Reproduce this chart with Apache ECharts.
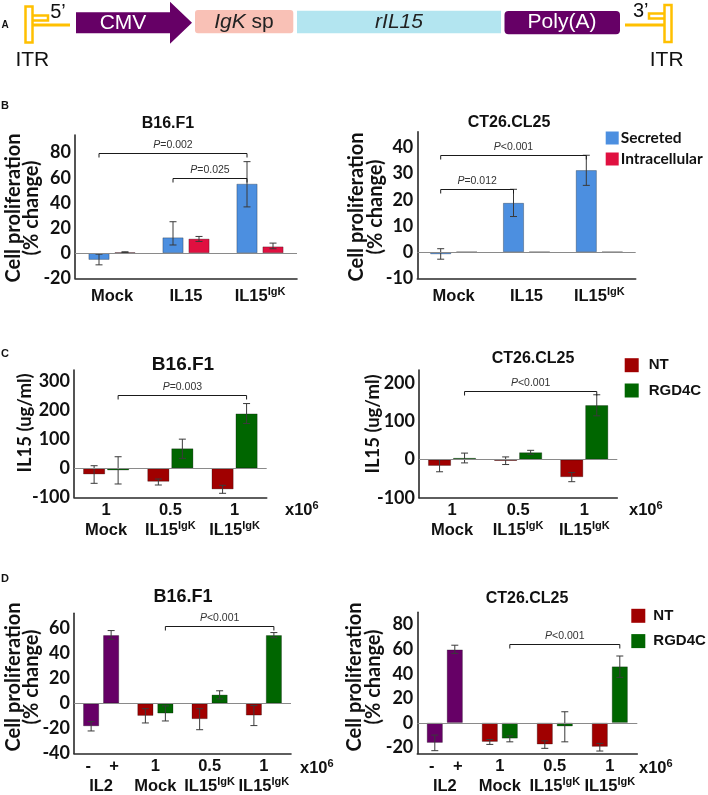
<!DOCTYPE html>
<html><head><meta charset="utf-8">
<script src="https://cdn.jsdelivr.net/npm/echarts@6/dist/echarts.min.js"></script>
<style>html,body{margin:0;padding:0;background:#fff}#c{width:708px;height:795px}</style>
</head><body><div id="c"></div>
<script>
// ---------------- DATA ----------------
// Panel B : cell proliferation (% change)
const bCategories = ['Mock', 'IL15', 'IL15IgK'];
const bB16YTicks = [-20, 0, 20, 40, 60, 80];
const bB16Secreted = [-5.3, 12.5, 55.2];
const bB16SecretedErrLow = [-9.3, 6.5, 36.8];
const bB16SecretedErrHigh = [-0.8, 25.0, 72.8];
const bB16Intracellular = [0.8, 11.5, 5.3];
const bB16IntracellularErrLow = [0.5, 9.3, 3.5];
const bB16IntracellularErrHigh = [1.1, 13.3, 8.0];
const bB16Brackets = [[0, 2, 79.5], [1, 2, 60]];
const bB16BracketLabels = ['P=0.002', 'P=0.025'];

const bCT26YTicks = [-10, 0, 10, 20, 30, 40];
const bCT26Secreted = [-0.8, 18.8, 31.3];
const bCT26SecretedErrLow = [-2.7, 13.6, 25.5];
const bCT26SecretedErrHigh = [1.3, 24.0, 37.0];
const bCT26Intracellular = [0.15, 0.15, 0.15];
const bCT26IntracellularErrLow = [null, null, null];
const bCT26IntracellularErrHigh = [null, null, null];
const bCT26Brackets = [[0, 2, 37], [0, 1, 24]];
const bCT26BracketLabels = ['P<0.001', 'P=0.012'];

// Panel C : IL15 (ug/ml)
const cDoses = ['1', '0.5', '1'];
const cGroups = ['Mock', 'IL15IgK', 'IL15IgK'];
const cB16YTicks = [-100, 0, 100, 200, 300];
const cB16NT = [-20.7, -46, -72.4];
const cB16NTErrLow = [-51.7, -57.5, -86.2];
const cB16NTErrHigh = [9.2, -36.8, -58.6];
const cB16RGD4C = [-6.9, 69, 189.7];
const cB16RGD4CErrLow = [-54, 34.5, 155];
const cB16RGD4CErrHigh = [40.2, 101, 224];
const cB16Brackets = [[0, 2, 253]];
const cB16BracketLabels = ['P=0.003'];

const cCT26YTicks = [-100, 0, 100, 200];
const cCT26NT = [-16.5, -3.5, -46];
const cCT26NTErrLow = [-32, -13, -58];
const cCT26NTErrHigh = [0, 7, -34];
const cCT26RGD4C = [4.3, 19, 142.6];
const cCT26RGD4CErrLow = [-8.7, 13.9, 114.8];
const cCT26RGD4CErrHigh = [17, 24.3, 170];
const cCT26Brackets = [[0, 2, 181]];
const cCT26BracketLabels = ['P<0.001'];

// Panel D : cell proliferation (% change)
const dGroups = ['IL2', 'Mock', 'IL15IgK', 'IL15IgK'];
const dDoses = ['', '1', '0.5', '1'];
const il2Signs = ['-', '+'];
const dB16YTicks = [-40, -20, 0, 20, 40, 60];
const dB16IL2 = [-18.2, 54.5];
const dB16IL2ErrLow = [-22, 51.2];
const dB16IL2ErrHigh = [-14.5, 58.2];
const dB16NT = [-9.9, -12.5, -9.6];
const dB16NTErrLow = [-15.6, -21, -17.7];
const dB16NTErrHigh = [-4.2, -4.2, -1.6];
const dB16RGD4C = [-8, 7, 54.5];
const dB16RGD4CErrLow = [-14, 3.6, 52.5];
const dB16RGD4CErrHigh = [-2, 10.1, 56.6];
const dB16Brackets = [[1, 3, 61.6]];
const dB16BracketLabels = ['P<0.001'];

const dCT26YTicks = [-20, 0, 20, 40, 60, 80];
const dCT26IL2 = [-16.3, 59.7];
const dCT26IL2ErrLow = [-22.7, 56.5];
const dCT26IL2ErrHigh = [-10, 63.2];
const dCT26NT = [-15.5, -17.6, -19.5];
const dCT26NTErrLow = [-17.6, -20.8, -23];
const dCT26NTErrHigh = [-13.6, -14.7, -16.8];
const dCT26RGD4C = [-12.8, -2.9, 45.9];
const dCT26RGD4CErrLow = [-15.5, -15.5, 37];
const dCT26RGD4CErrHigh = [-10.7, 9, 54.4];
const dCT26Brackets = [[1, 3, 64.5]];
const dCT26BracketLabels = ['P<0.001'];

// ---------------- STYLE ----------------
const ARIAL = '"Liberation Sans", Arial, sans-serif';
const CAL = 'Lato, "Liberation Sans", sans-serif';
const PURPLE = '#660066';
const BLUE = '#4C8FE0';
const CRIMSON = '#E01040';
const DARKRED = '#A00000';
const GREEN = '#006600';
const ITR = '#FFC000';
const AXIS = '#2a2a2a';

const grids = [
  {left: 75, top: 135, width: 222, height: 143.3},
  {left: 417.3, top: 131.7, width: 218.4, height: 146.6},
  {left: 74, top: 370, width: 192.7, height: 127.3},
  {left: 419, top: 370, width: 198.3, height: 127.7},
  {left: 74, top: 613.3, width: 217, height: 141.7},
  {left: 417.3, top: 612.3, width: 220, height: 142.7}
];
const yRanges = [
  {min: -20, max: 94, interval: 2, ticks: bB16YTicks},
  {min: -10, max: 46, interval: 2, ticks: bCT26YTicks},
  {min: -100, max: 340, interval: 20, ticks: cB16YTicks},
  {min: -100, max: 235, interval: 5, ticks: cCT26YTicks},
  {min: -40, max: 72, interval: 4, ticks: dB16YTicks},
  {min: -25, max: 90, interval: 5, ticks: dCT26YTicks}
];
const barGeom = [
  {w: 21, gap: 5}, {w: 21, gap: 5},
  {w: 22, gap: 2}, {w: 23, gap: 2},
  {w: 16, gap: 4}, {w: 16, gap: 4}
];

const xRich = {
  g: {fontFamily: ARIAL, fontWeight: 'bold', fontSize: 16.5, lineHeight: 20, color: '#111'},
  s: {fontFamily: ARIAL, fontWeight: 'bold', fontSize: 11, lineHeight: 13, verticalAlign: 'top', color: '#111'},
  m: {fontFamily: ARIAL, fontWeight: 'bold', fontSize: 16.5, lineHeight: 20, width: 26, align: 'center', color: '#111'}
};
function fmtGroup(name) {
  return name === 'IL15IgK' ? '{g|IL15}{s|IgK}' : '{g|' + name + '}';
}
const xFormatters = [
  (v, i) => fmtGroup(bCategories[i]),
  (v, i) => fmtGroup(bCategories[i]),
  (v, i) => '{g|' + cDoses[i] + '}\n' + fmtGroup(cGroups[i]),
  (v, i) => '{g|' + cDoses[i] + '}\n' + fmtGroup(cGroups[i]),
  (v, i) => i === 0 ? '{m|' + il2Signs[0] + '}{m|' + il2Signs[1] + '}\n{g|' + dGroups[0] + '}' : '{g|' + dDoses[i] + '}\n' + fmtGroup(dGroups[i]),
  (v, i) => i === 0 ? '{m|' + il2Signs[0] + '}{m|' + il2Signs[1] + '}\n{g|' + dGroups[0] + '}' : '{g|' + dDoses[i] + '}\n' + fmtGroup(dGroups[i])
];
const xCats = [
  bCategories, bCategories,
  cGroups.map((g, i) => g + ' ' + cDoses[i]), cGroups.map((g, i) => g + ' ' + cDoses[i]),
  dGroups.map((g, i) => g + ' ' + (dDoses[i] || 'pm')), dGroups.map((g, i) => g + ' ' + (dDoses[i] || 'pm'))
];
const xMargins = [8, 8, 3, 3, 3, 3];

const xAxes = grids.map((g, i) => ({
  type: 'category', gridIndex: i, data: xCats[i],
  axisLine: {onZero: false, lineStyle: {color: AXIS, width: 1.6}},
  axisTick: {show: false},
  axisLabel: {interval: 0, margin: xMargins[i], formatter: xFormatters[i], rich: xRich}
}));
const yAxes = yRanges.map((r, i) => ({
  type: 'value', gridIndex: i, min: r.min, max: r.max, interval: r.interval,
  axisLine: {show: true, lineStyle: {color: AXIS, width: 1.6}},
  axisTick: {show: false}, splitLine: {show: false},
  axisLabel: {
    margin: 4, fontFamily: CAL, fontWeight: 'bold', fontSize: 18, color: '#111',
    formatter: v => r.ticks.some(t => Math.abs(t - v) < 1e-6) ? String(v) : ''
  }
}));

function errRender(off) {
  return function (params, api) {
    const cat = api.value(0), lo = api.value(1), hi = api.value(2), side = api.value(3);
    const a = api.coord([cat, lo]), b = api.coord([cat, hi]);
    const cx = a[0] + (side ? off : -off);
    const hw = 3.5;
    const st = {stroke: '#3a3a3a', lineWidth: 1};
    return {type: 'group', children: [
      {type: 'line', shape: {x1: cx, y1: a[1], x2: cx, y2: b[1]}, style: st},
      {type: 'line', shape: {x1: cx - hw, y1: a[1], x2: cx + hw, y2: a[1]}, style: st},
      {type: 'line', shape: {x1: cx - hw, y1: b[1], x2: cx + hw, y2: b[1]}, style: st}
    ]};
  };
}
function bracketRender(off, labels) {
  return function (params, api) {
    const a = api.coord([api.value(0), api.value(2)]);
    const b = api.coord([api.value(1), api.value(2)]);
    const x1 = a[0] + off, x2 = b[0] + off, y = Math.round(a[1]) + 0.5;
    const lab = labels[params.dataIndex];
    return {type: 'group', children: [
      {type: 'polyline', shape: {points: [[x1, y + 4], [x1, y], [x2, y], [x2, y + 4]]}, style: {stroke: '#1a1a1a', lineWidth: 1, fill: null}},
      {type: 'text', x: (x1 + x2) / 2, y: y - 8, style: {
        text: '{i|P}{n|' + lab.slice(1) + '}', align: 'center', verticalAlign: 'middle',
        rich: {
          i: {fontStyle: 'italic', fontSize: 10.5, fontFamily: ARIAL, fill: '#333'},
          n: {fontSize: 10.5, fontFamily: ARIAL, fill: '#333'}
        }
      }}
    ]};
  };
}

function panelSeries(gi, names, colors, data0, data1, lo0, hi0, lo1, hi1, brackets, bracketLabels, bracketSide) {
  const geo = barGeom[gi];
  const off = (geo.w + geo.gap) / 2;
  const barStyle = c => ({color: c, borderColor: 'rgba(0,0,0,0.35)', borderWidth: 0.8});
  const errData = [];
  data0.forEach((d, i) => { if (lo0[i] != null) errData.push([i, lo0[i], hi0[i], 0]); });
  data1.forEach((d, i) => { if (lo1[i] != null) errData.push([i, lo1[i], hi1[i], 1]); });
  return [
    {type: 'bar', name: names[0], xAxisIndex: gi, yAxisIndex: gi, data: data0, barWidth: geo.w,
      barGap: (geo.gap / geo.w * 100) + '%', itemStyle: barStyle(colors[0]), z: 2,
      markLine: {silent: true, symbol: 'none', label: {show: false},
        lineStyle: {color: '#8a8a8a', width: 1, type: 'solid'}, data: [{yAxis: 0}]}},
    {type: 'bar', name: names[1], xAxisIndex: gi, yAxisIndex: gi, data: data1, barWidth: geo.w,
      barGap: (geo.gap / geo.w * 100) + '%', itemStyle: barStyle(colors[1]), z: 2},
    {type: 'custom', name: 'err' + gi, xAxisIndex: gi, yAxisIndex: gi, data: errData, z: 4,
      encode: {x: 0, y: [1, 2]}, renderItem: errRender(off)},
    {type: 'custom', name: 'br' + gi, xAxisIndex: gi, yAxisIndex: gi, data: brackets, z: 4,
      encode: {x: [0, 1], y: 2}, renderItem: bracketRender(bracketSide * off, bracketLabels)}
  ];
}

const purpleItem = v => ({value: v, itemStyle: {color: PURPLE}});
const series = [].concat(
  panelSeries(0, ['Secreted', 'Intracellular'], [BLUE, CRIMSON], bB16Secreted, bB16Intracellular,
    bB16SecretedErrLow, bB16SecretedErrHigh, bB16IntracellularErrLow, bB16IntracellularErrHigh,
    bB16Brackets, bB16BracketLabels, -1),
  panelSeries(1, ['Secreted', 'Intracellular'], [BLUE, CRIMSON], bCT26Secreted, bCT26Intracellular,
    bCT26SecretedErrLow, bCT26SecretedErrHigh, bCT26IntracellularErrLow, bCT26IntracellularErrHigh,
    bCT26Brackets, bCT26BracketLabels, -1),
  panelSeries(2, ['NT', 'RGD4C'], [DARKRED, GREEN], cB16NT, cB16RGD4C,
    cB16NTErrLow, cB16NTErrHigh, cB16RGD4CErrLow, cB16RGD4CErrHigh, cB16Brackets, cB16BracketLabels, 1),
  panelSeries(3, ['NT', 'RGD4C'], [DARKRED, GREEN], cCT26NT, cCT26RGD4C,
    cCT26NTErrLow, cCT26NTErrHigh, cCT26RGD4CErrLow, cCT26RGD4CErrHigh, cCT26Brackets, cCT26BracketLabels, 1),
  panelSeries(4, ['NT', 'RGD4C'], [DARKRED, GREEN],
    [purpleItem(dB16IL2[0])].concat(dB16NT), [purpleItem(dB16IL2[1])].concat(dB16RGD4C),
    [dB16IL2ErrLow[0]].concat(dB16NTErrLow), [dB16IL2ErrHigh[0]].concat(dB16NTErrHigh),
    [dB16IL2ErrLow[1]].concat(dB16RGD4CErrLow), [dB16IL2ErrHigh[1]].concat(dB16RGD4CErrHigh),
    dB16Brackets, dB16BracketLabels, 1),
  panelSeries(5, ['NT', 'RGD4C'], [DARKRED, GREEN],
    [purpleItem(dCT26IL2[0])].concat(dCT26NT), [purpleItem(dCT26IL2[1])].concat(dCT26RGD4C),
    [dCT26IL2ErrLow[0]].concat(dCT26NTErrLow), [dCT26IL2ErrHigh[0]].concat(dCT26NTErrHigh),
    [dCT26IL2ErrLow[1]].concat(dCT26RGD4CErrLow), [dCT26IL2ErrHigh[1]].concat(dCT26RGD4CErrHigh),
    dCT26Brackets, dCT26BracketLabels, 1)
);

const legendBase = {orient: 'vertical', padding: 0, icon: 'rect', selectedMode: false, itemStyle: {borderWidth: 0}};
const legends = [
  Object.assign({}, legendBase, {data: ['Secreted', 'Intracellular'], left: 605.7, top: 130, itemWidth: 13, itemHeight: 13, itemGap: 5,
    textStyle: {fontFamily: CAL, fontWeight: 'bold', fontSize: 15.5, color: '#111', lineHeight: 13, padding: [0, 0, 0, -3]}}),
  Object.assign({}, legendBase, {data: ['NT', 'RGD4C'], left: 624.7, top: 357.7, itemWidth: 14, itemHeight: 14, itemGap: 10.3,
    textStyle: {fontFamily: ARIAL, fontWeight: 'bold', fontSize: 15, color: '#111', lineHeight: 14, padding: [0, 0, 0, 5]}}),
  Object.assign({}, legendBase, {data: ['NT', 'RGD4C'], left: 631.3, top: 608.3, itemWidth: 14, itemHeight: 14, itemGap: 10.3,
    textStyle: {fontFamily: ARIAL, fontWeight: 'bold', fontSize: 15, color: '#111', lineHeight: 14, padding: [0, 0, 0, 3]}})
];

// ---------- free text & schematic (panel A) ----------
function txt(x, y, text, o) {
  return {type: 'text', x: x, y: y, rotation: (o && o.rot) || 0, style: Object.assign({
    text: text, align: 'center', verticalAlign: 'middle', fill: '#111', fontFamily: ARIAL, fontSize: 16
  }, (o && o.style) || {})};
}
const boldTitle = s => ({fontWeight: 'bold', fontSize: s});
const yName = (s) => ({fontFamily: CAL, fontWeight: 'bold', fontSize: s, lineHeight: 18.4});
const x106 = {text: '{a|x10}{s|6}', align: 'left', rich: {
  a: {fontFamily: ARIAL, fontWeight: 'bold', fontSize: 16.5, lineHeight: 20, fill: '#111'},
  s: {fontFamily: ARIAL, fontWeight: 'bold', fontSize: 11, lineHeight: 12, verticalAlign: 'top', fill: '#111'}}};

const graphics = [
  // panel A schematic
  {type: 'polygon', shape: {points: [[76, 12.3], [170, 12.3], [170, 1.7], [192, 22.7], [170, 43.7], [170, 33.3], [76, 33.3]]}, style: {fill: PURPLE}},
  txt(123, 23, 'CMV', {style: {fill: '#fff', fontSize: 21}}),
  {type: 'rect', shape: {x: 195, y: 10, width: 98.3, height: 23.3, r: 3}, style: {fill: '#F9C1B6'}},
  txt(244, 22, '{i|IgK}{n| sp}', {style: {rich: {
    i: {fontStyle: 'italic', fontFamily: ARIAL, fontSize: 21, fill: '#222'},
    n: {fontFamily: ARIAL, fontSize: 21, fill: '#222'}}}}),
  {type: 'rect', shape: {x: 297, y: 10.7, width: 204, height: 22.6}, style: {fill: '#B3E5F0'}},
  txt(399, 22, 'rIL15', {style: {fontStyle: 'italic', fontSize: 21, fill: '#222'}}),
  {type: 'rect', shape: {x: 504.5, y: 11, width: 115.5, height: 23.3, r: 4}, style: {fill: PURPLE}},
  txt(562, 22.7, 'Poly(A)', {style: {fill: '#fff', fontSize: 21}}),
  // left ITR
  {type: 'rect', shape: {x: 25.5, y: 6.5, width: 7, height: 36}, style: {fill: null, stroke: ITR, lineWidth: 2.5}},
  {type: 'polyline', shape: {points: [[33, 15.5], [48, 15.5], [48, 20.5], [33, 20.5]]}, style: {fill: null, stroke: ITR, lineWidth: 2.5}},
  {type: 'line', shape: {x1: 33, y1: 25, x2: 70, y2: 25}, style: {stroke: ITR, lineWidth: 3}},
  txt(58, 12, '5\u2019', {style: {fontSize: 20}}),
  txt(32.3, 60, 'ITR', {style: {fontSize: 21}}),
  // right ITR
  {type: 'rect', shape: {x: 664.5, y: 5, width: 7, height: 37}, style: {fill: null, stroke: ITR, lineWidth: 2.5}},
  {type: 'polyline', shape: {points: [[664.5, 13.5], [649, 13.5], [649, 18.5], [664.5, 18.5]]}, style: {fill: null, stroke: ITR, lineWidth: 2.5}},
  {type: 'line', shape: {x1: 625, y1: 25, x2: 664, y2: 25}, style: {stroke: ITR, lineWidth: 3}},
  txt(640.7, 11, '3\u2019', {style: {fontSize: 20}}),
  txt(666.7, 60, 'ITR', {style: {fontSize: 21}}),
  // panel letters
  txt(5, 25, 'A', {style: {fontWeight: 'bold', fontSize: 10}}),
  txt(5, 105.7, 'B', {style: {fontWeight: 'bold', fontSize: 11}}),
  txt(5, 354.3, 'C', {style: {fontWeight: 'bold', fontSize: 11}}),
  txt(5, 579.3, 'D', {style: {fontWeight: 'bold', fontSize: 11}}),
  // titles
  txt(168, 124, 'B16.F1', {style: boldTitle(16)}),
  txt(509, 123, 'CT26.CL25', {style: boldTitle(16)}),
  txt(183, 364.3, 'B16.F1', {style: boldTitle(19)}),
  txt(533, 359, 'CT26.CL25', {style: boldTitle(16)}),
  txt(183, 596.7, 'B16.F1', {style: boldTitle(18)}),
  txt(527, 599, 'CT26.CL25', {style: boldTitle(16)}),
  // y-axis names
  txt(22.5, 208, 'Cell proliferation\n(% change)', {rot: Math.PI / 2, style: yName(20)}),
  txt(366, 207, 'Cell proliferation\n(% change)', {rot: Math.PI / 2, style: yName(20)}),
  txt(25, 423, 'IL15 (ug/ml)', {rot: Math.PI / 2, style: yName(18.5)}),
  txt(373, 424, 'IL15 (ug/ml)', {rot: Math.PI / 2, style: yName(18.5)}),
  txt(22.5, 677, 'Cell proliferation\n(% change)', {rot: Math.PI / 2, style: yName(20)}),
  txt(364, 677, 'Cell proliferation\n(% change)', {rot: Math.PI / 2, style: yName(20)}),
  // x10^6
  {type: 'text', x: 285, y: 510.5, style: Object.assign({verticalAlign: 'middle'}, x106)},
  {type: 'text', x: 629, y: 510.5, style: Object.assign({verticalAlign: 'middle'}, x106)},
  {type: 'text', x: 300, y: 768, style: Object.assign({verticalAlign: 'middle'}, x106)},
  {type: 'text', x: 639, y: 768, style: Object.assign({verticalAlign: 'middle'}, x106)}
];

const chart = echarts.init(document.getElementById('c'), null, {renderer: 'canvas'});
chart.setOption({
  backgroundColor: '#fff',
  animation: false,
  grid: grids,
  xAxis: xAxes,
  yAxis: yAxes,
  legend: legends,
  series: series,
  graphic: graphics
});
</script>
</body></html>
